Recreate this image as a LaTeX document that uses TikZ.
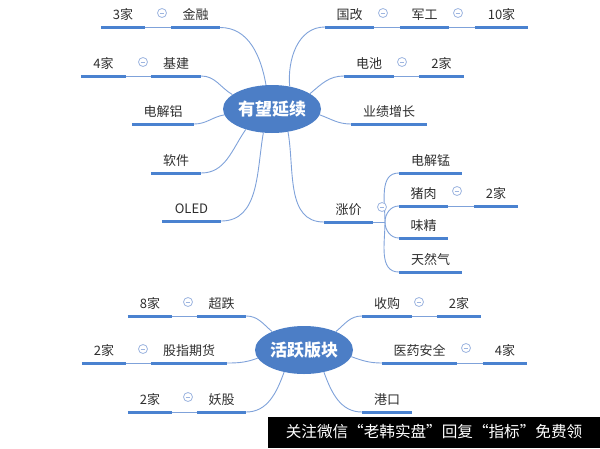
\documentclass[tikz,border=0pt]{standalone}
\usepackage{fontspec}
\newfontfamily\cjk{Noto Sans CJK SC}
\usetikzlibrary{shapes.geometric}
\definecolor{lineblue}{HTML}{4A82D0}
\definecolor{thinblue}{HTML}{7FA2DA}
\definecolor{hubblue}{HTML}{4C7EC6}
\definecolor{foldblue}{HTML}{9DB5E0}
\definecolor{txtgray}{HTML}{2E2E2E}
\begin{document}
\begin{tikzpicture}[
        x=1pt, y=-1pt,
        line join=round,
        % 样式
        hub/.style={ellipse, fill=hubblue, text=white, minimum width=98, minimum height=48,
            inner sep=0, font=\cjk\bfseries\fontsize{17}{19}\selectfont},
        topic/.style={anchor=south, text=txtgray, inner xsep=0, inner ysep=7.5pt,
            text depth=0pt, font=\cjk\fontsize{13}{15}\selectfont},
        uline/.style={lineblue, line width=3pt},
        conn/.style={thinblue, line width=0.9pt},
        fold/.style={circle, draw=foldblue, fill=white, line width=0.8pt, minimum size=9,
            inner sep=0, path picture={\draw[foldblue, line width=0.8pt]
            ([xshift=-2.3pt]path picture bounding box.center) --
            ([xshift=2.3pt]path picture bounding box.center);}},
    ]
    \useasboundingbox (0,0) rectangle (600,448);

    % 中心节点
    \node[hub] (YW) at (272,109) {有望延续};
    \node[hub] (HY) at (304,350) {活跃版块};

    % 有望延续 左侧
    \node[topic, minimum width=44] (J3)  at (123,27.5)   {3家};
    \node[topic, minimum width=49] (JR)  at (195.5,27.5) {金融};
    \node[topic, minimum width=45] (J4)  at (103.5,76)   {4家};
    \node[topic, minimum width=50] (JJ)  at (176,76)     {基建};
    \node[topic, minimum width=62] (DJL) at (163,124)    {电解铝};
    \node[topic, minimum width=50] (RJ)  at (176,173)    {软件};
    \node[topic, minimum width=59] (OL)  at (191.5,221)  {OLED};

    % 有望延续 右侧
    \node[topic, minimum width=49] (GG)  at (349.5,27)   {国改};
    \node[topic, minimum width=49] (JG)  at (424.5,27)   {军工};
    \node[topic, minimum width=53] (J10) at (501.5,27)   {10家};
    \node[topic, minimum width=50] (DC)  at (369,76)     {电池};
    \node[topic, minimum width=45] (J2a) at (441.5,76)   {2家};
    \node[topic, minimum width=76] (YJ)  at (389,124)    {业绩增长};
    \node[topic, minimum width=49] (ZJ)  at (348.5,222)  {涨价};
    \node[topic, minimum width=63] (DJM) at (430.5,173)  {电解锰};
    \node[topic, minimum width=49] (ZR)  at (423.5,206)  {猪肉};
    \node[topic, minimum width=44] (J2b) at (496,206)    {2家};
    \node[topic, minimum width=49] (WJ)  at (423.5,238)  {味精};
    \node[topic, minimum width=63] (TRQ) at (430.5,272)  {天然气};

    % 活跃版块 左侧
    \node[topic, minimum width=44] (J8)  at (150,316)    {8家};
    \node[topic, minimum width=49] (CD)  at (221.5,316)  {超跌};
    \node[topic, minimum width=44] (J2c) at (104,363)    {2家};
    \node[topic, minimum width=76] (GZ)  at (189,363)    {股指期货};
    \node[topic, minimum width=44] (J2d) at (150,412)    {2家};
    \node[topic, minimum width=49] (YG)  at (221.5,412)  {妖股};

    % 活跃版块 右侧
    \node[topic, minimum width=50] (SG)  at (387,316)    {收购};
    \node[topic, minimum width=44] (J2e) at (459,316)    {2家};
    \node[topic, minimum width=75] (YY)  at (419.5,363)  {医药安全};
    \node[topic, minimum width=44] (J4b) at (505,363)    {4家};
    \node[topic, minimum width=50] (GK)  at (387,412)    {港口};

    % 主干连线
    \draw[conn] (YW.104) to[out=100, in=0]   (JR.south east);
    \draw[conn] (YW.160) to[out=150, in=0]   (JJ.south east);
    \draw[conn] (YW.187) to[out=190, in=0]   (DJL.south east);
    \draw[conn] (YW.218) to[out=235, in=0]   (RJ.south east);
    \draw[conn] (YW.250) to[out=260, in=0]   (OL.south east);
    \draw[conn] (YW.52)  to[out=95,  in=180] (GG.south west);
    \draw[conn] (YW.22)  to[out=40,  in=180] (DC.south west);
    \draw[conn] (YW.353) to[out=340, in=180] (YJ.south west);
    \draw[conn] (YW.305) to[out=280, in=180] (ZJ.south west);
    \draw[conn] (HY.150) to[out=140, in=0]   (CD.south east);
    \draw[conn] (HY.190) to[out=200, in=0]   (GZ.south east);
    \draw[conn] (HY.228) to[out=250, in=0]   (YG.south east);
    \draw[conn] (HY.30)  to[out=40,  in=180] (SG.south west);
    \draw[conn] (HY.352) to[out=340, in=180] (YY.south west);
    \draw[conn] (HY.312) to[out=290, in=180] (GK.south west);

    % 子节点连线
    \draw[conn] (J3.south east)  -- (JR.south west);
    \draw[conn] (J4.south east)  -- (JJ.south west);
    \draw[conn] (GG.south east)  -- (JG.south west);
    \draw[conn] (JG.south east)  -- (J10.south west);
    \draw[conn] (DC.south east)  -- (J2a.south west);
    \draw[conn] (ZR.south east)  -- (J2b.south west);
    \draw[conn] (J8.south east)  -- (CD.south west);
    \draw[conn] (J2c.south east) -- (GZ.south west);
    \draw[conn] (J2d.south east) -- (YG.south west);
    \draw[conn] (SG.south east)  -- (J2e.south west);
    \draw[conn] (YY.south east)  -- (J4b.south west);

    % 涨价 分支
    \coordinate (ZJx) at (385,222);
    \draw[conn] (ZJ.south east) -- (ZJx);
    \draw[conn] (ZJx) to[out=90,  in=180] (DJM.south west);
    \draw[conn] (ZJx) to[out=90,  in=180] (ZR.south west);
    \draw[conn] (ZJx) to[out=270, in=180] (WJ.south west);
    \draw[conn] (ZJx) to[out=270, in=180] (TRQ.south west);

    % 下划线
    \foreach \n in {J3,JR,J4,JJ,DJL,RJ,OL,GG,JG,J10,DC,J2a,YJ,ZJ,DJM,ZR,J2b,WJ,TRQ,
                    J8,CD,J2c,GZ,J2d,YG,SG,J2e,YY,J4b,GK}
        \draw[uline] (\n.south west) -- (\n.south east);

    % 折叠按钮
    \node[fold] (F1)  at (162,13)  {};
    \node[fold] (F2)  at (143,62)  {};
    \node[fold] (F3)  at (383,13)  {};
    \node[fold] (F4)  at (458,13)  {};
    \node[fold] (F5)  at (402,62)  {};
    \node[fold] (F6)  at (382,207) {};
    \node[fold] (F7)  at (457,191) {};
    \node[fold] (F8)  at (188,302) {};
    \node[fold] (F9)  at (143,349) {};
    \node[fold] (F10) at (188,397) {};
    \node[fold] (F11) at (419,302) {};
    \node[fold] (F12) at (466,348) {};

    % 水印
    \fill[black] (268,417) rectangle (600,448);
    \node[text=white, font=\cjk\fontsize{15.6}{17}\selectfont, inner sep=0] (WM) at (434,432)
        {关注微信“老韩实盘”回复“指标”免费领};
\end{tikzpicture}
\end{document}
